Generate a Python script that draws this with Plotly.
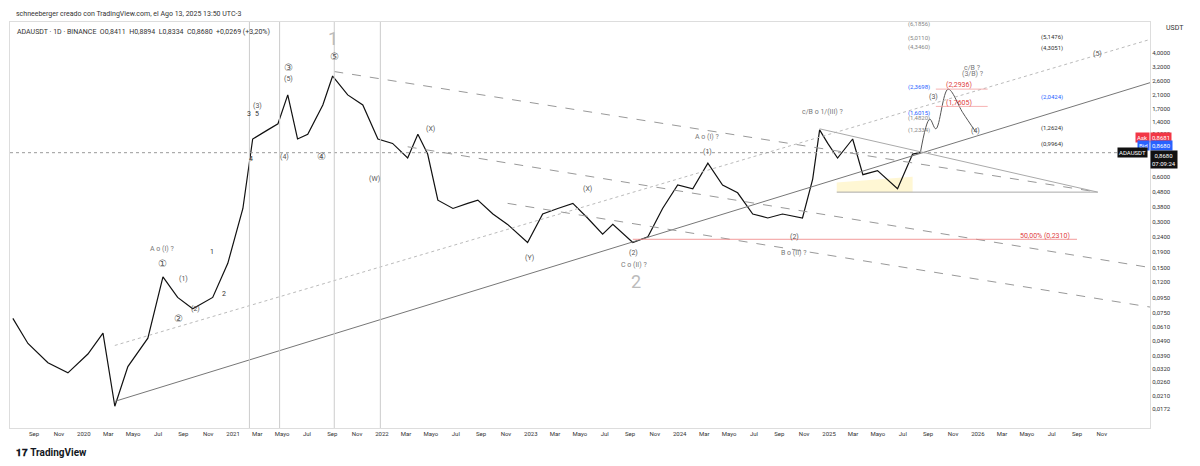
import math
import plotly.graph_objects as go

# ADAUSDT 1D, approximate closes
dates = ["2019-07-11", "2019-08-17", "2019-10-05", "2019-11-23", "2020-01-11", "2020-02-17",
         "2020-03-17", "2020-04-18", "2020-06-06", "2020-07-13", "2020-08-18", "2020-09-24",
         "2020-11-12", "2020-12-19", "2021-01-25", "2021-02-18", "2021-03-27", "2021-04-21",
         "2021-05-15", "2021-06-08", "2021-07-03", "2021-08-09", "2021-09-02", "2021-10-09",
         "2021-11-15", "2021-12-22", "2022-01-27", "2022-03-05", "2022-03-30", "2022-04-23",
         "2022-05-18", "2022-06-24", "2022-07-30", "2022-08-24", "2022-09-30", "2022-11-05",
         "2022-12-24", "2023-01-30", "2023-03-08", "2023-04-14", "2023-05-20", "2023-06-26",
         "2023-07-21", "2023-09-08", "2023-10-15", "2023-11-20", "2023-12-27", "2024-02-02",
         "2024-03-10", "2024-04-15", "2024-05-22", "2024-06-28", "2024-08-04", "2024-09-09",
         "2024-10-28", "2024-11-22", "2024-12-09", "2024-12-29", "2025-01-22", "2025-02-28",
         "2025-03-25", "2025-04-30", "2025-06-18", "2025-07-25", "2025-08-13"]
close = [0.069, 0.047, 0.035, 0.030, 0.040, 0.055,
         0.018, 0.033, 0.051, 0.13, 0.095, 0.08,
         0.095, 0.16, 0.37, 1.07, 1.23, 1.35,
         2.1, 1.07, 1.15, 1.8, 2.8, 2.1,
         1.8, 1.07, 1.0, 0.8, 1.15, 0.85,
         0.42, 0.37, 0.40, 0.42, 0.34, 0.29,
         0.22, 0.34, 0.37, 0.40, 0.32, 0.25,
         0.29, 0.22, 0.24, 0.37, 0.53, 0.50,
         0.74, 0.53, 0.47, 0.34, 0.32, 0.34,
         0.32, 0.58, 1.23, 1.0, 0.8, 1.07,
         0.62, 0.66, 0.50, 0.85, 0.868]

# projected path
proj_dates = ["2025-08-13", "2025-09-05", "2025-09-20", "2025-10-20", "2025-11-25", "2025-12-26"]
proj_vals = [0.868, 1.45, 1.25, 2.29, 1.6, 1.2]

# shaded triangle zone
zone_dates = ["2025-01-20", "2025-07-25", "2025-07-25", "2025-01-20"]
zone_vals = [0.475, 0.475, 0.60, 0.55]

tick_vals = [0.0172, 0.021, 0.026, 0.032, 0.039, 0.049, 0.061, 0.075, 0.095, 0.12, 0.15, 0.19,
             0.24, 0.30, 0.38, 0.48, 0.60, 1.15, 1.4, 1.7, 2.1, 2.6, 3.2, 4.0]
tick_text = [f"{v:.4f}".replace(".", ",") for v in tick_vals]

month_ticks = []
month_text = []
mnames = {3: "Mar", 5: "Mayo", 7: "Jul", 9: "Sep", 11: "Nov"}
for y in range(2019, 2027):
    for m in [1, 3, 5, 7, 9, 11]:
        if y == 2019 and m < 9:
            continue
        month_ticks.append(f"{y}-{m:02d}-01")
        month_text.append(str(y) if m == 1 else mnames[m])

x0, x1 = "2019-07-04", "2027-02-27"

fig = go.Figure()
fig.add_trace(go.Scatter(x=zone_dates, y=zone_vals, fill="toself", mode="lines", line=dict(width=0),
                         fillcolor="rgba(255,240,170,0.5)", showlegend=False, hoverinfo="skip"))
fig.add_trace(go.Scatter(x=dates, y=close, mode="lines", line=dict(color="#111", width=1.2),
                         showlegend=False, hoverinfo="skip"))
fig.add_trace(go.Scatter(x=proj_dates, y=proj_vals, mode="lines", line=dict(color="#555", width=1, shape="spline"),
                         showlegend=False, hoverinfo="skip"))

def seg(xa, ya, xb, yb, color="#888", dash="solid", width=1):
    fig.add_trace(go.Scatter(x=[xa, xb], y=[ya, yb], mode="lines", showlegend=False, hoverinfo="skip",
                             line=dict(color=color, dash=dash, width=width)))

seg("2020-03-17", 0.0194, x1, 2.53, "#777")
seg("2020-03-17", 0.0456, x1, 4.9, "#bbb", "dot")
seg("2021-09-06", 3.0, "2026-10-22", 0.475, "#999", "dash")
seg("2022-03-05", 0.95, x1, 0.15, "#999", "dash")
seg("2022-11-05", 0.40, x1, 0.082, "#999", "dash")
seg("2024-12-09", 1.25, "2026-10-22", 0.475, "#aaa")
seg("2025-01-20", 0.475, "2026-10-22", 0.475, "#aaa")
seg(x0, 0.868, x1, 0.868, "#999", "dot")
seg("2023-09-08", 0.231, "2026-09-01", 0.231, "#f08080", width=0.8)
seg("2025-09-20", 2.2936, "2026-01-25", 2.2936, "#f4a0a0", width=0.8)
seg("2025-09-20", 1.7605, "2026-01-25", 1.7605, "#f4a0a0", width=0.8)

shapes = []
for d in ["2021-02-10", "2021-04-25", "2021-09-06", "2021-12-28"]:
    shapes.append(dict(type="line", x0=d, x1=d, y0=0, y1=1, xref="x", yref="paper",
                       line=dict(color="#ccc", width=1)))

labels = [
    ("2021-09-02", 5.0, "1", "#bbb", 18), ("2023-09-17", 0.122, "2", "#bbb", 18),
    ("2021-09-06", 3.75, "⑤", "#555", 10), ("2021-05-18", 3.2, "③", "#555", 10),
    ("2021-05-18", 2.67, "(5)", "#555", 7), ("2021-03-01", 1.78, "(3)", "#555", 7),
    ("2021-02-08", 1.56, "3", "#333", 7), ("2021-03-01", 1.56, "5", "#333", 7),
    ("2021-05-08", 0.81, "(4)", "#555", 7), ("2021-08-05", 0.82, "④", "#555", 10),
    ("2021-02-15", 0.79, "4", "#333", 7), ("2021-12-14", 0.58, "(W)", "#555", 7),
    ("2022-04-30", 1.24, "(X)", "#555", 7), ("2022-12-28", 0.173, "(Y)", "#555", 7),
    ("2023-05-20", 0.50, "(X)", "#555", 7), ("2020-07-13", 0.20, "A o (I) ?", "#777", 7),
    ("2020-07-13", 0.16, "①", "#555", 10), ("2020-09-01", 0.125, "(1)", "#555", 7),
    ("2020-10-01", 0.08, "(2)", "#555", 7), ("2020-08-20", 0.069, "②", "#555", 10),
    ("2020-11-10", 0.19, "1", "#333", 7), ("2020-12-10", 0.10, "2", "#333", 7),
    ("2024-03-10", 0.88, "(1)", "#555", 7), ("2024-03-10", 1.10, "A o (I) ?", "#777", 7),
    ("2023-09-10", 0.186, "(2)", "#555", 7), ("2023-09-10", 0.157, "C o (II) ?", "#777", 7),
    ("2024-10-08", 0.239, "(2)", "#555", 7), ("2024-10-08", 0.186, "B o (II) ?", "#777", 7),
    ("2024-12-16", 1.62, "c/B o 1/(III) ?", "#777", 7), ("2025-09-13", 2.03, "(3)", "#555", 7),
    ("2025-12-20", 3.15, "c/B ?", "#777", 7), ("2025-12-20", 2.9, "(3/B) ?", "#777", 7),
    ("2025-12-26", 1.21, "(4)", "#555", 7), ("2026-10-22", 3.9, "(5)", "#555", 7),
    ("2026-06-15", 0.243, "50,00% (0,2310)", "#e04040", 7),
    ("2025-11-15", 2.45, "(2,2936)", "#e04040", 7), ("2025-11-15", 1.86, "(1,7605)", "#e04040", 7),
    ("2026-07-01", 5.1, "(5,1476)", "#333", 6), ("2026-07-01", 4.3, "(4,3051)", "#333", 6),
    ("2026-07-01", 2.04, "(2,0424)", "#2962ff", 6), ("2026-07-01", 1.26, "(1,2624)", "#333", 6),
    ("2026-07-01", 0.996, "(0,9964)", "#333", 6),
    ("2025-08-10", 6.2, "(6,1856)", "#888", 6), ("2025-08-10", 5.0, "(5,0110)", "#888", 6),
    ("2025-08-10", 4.35, "(4,3460)", "#888", 6), ("2025-08-10", 2.37, "(2,3698)", "#2962ff", 6),
    ("2025-08-10", 1.60, "(1,6015)", "#2962ff", 6), ("2025-08-10", 1.48, "(1,4820)", "#888", 6),
    ("2025-08-10", 1.23, "(1,2334)", "#888", 6),
]
ann = [dict(x=d, y=math.log10(p), text=t, showarrow=False, xref="x", yref="y",
            font=dict(color=c, size=s, family="Roboto")) for d, p, t, c, s in labels]

lp = math.log10(0.868)
ann += [
    dict(xref="paper", yref="y", x=1.0, y=lp + 0.1, text="0,8681", bgcolor="#f23645", font=dict(color="white", size=6),
         showarrow=False, xanchor="left", borderpad=1),
    dict(xref="paper", yref="y", x=1.0, y=lp + 0.1, text="Ask", bgcolor="#f23645", font=dict(color="white", size=6),
         showarrow=False, xanchor="right", borderpad=1),
    dict(xref="paper", yref="y", x=1.0, y=lp + 0.05, text="0,8680", bgcolor="#2962ff", font=dict(color="white", size=6),
         showarrow=False, xanchor="left", borderpad=1),
    dict(xref="paper", yref="y", x=1.0, y=lp + 0.05, text="Bid", bgcolor="#2962ff", font=dict(color="white", size=6),
         showarrow=False, xanchor="right", borderpad=1),
    dict(xref="paper", yref="y", x=1.0, y=lp + 0.018, text="0,8680<br>07:09:24", bgcolor="#111", font=dict(color="white", size=6),
         showarrow=False, xanchor="left", yanchor="top", borderpad=1),
    dict(xref="paper", yref="y", x=1.0, y=lp, text="ADAUSDT", bgcolor="#111", font=dict(color="white", size=6),
         showarrow=False, xanchor="right", xshift=-2, borderpad=1),
    dict(xref="paper", yref="paper", x=1.0, y=1.0, text="USDT", font=dict(color="#333", size=7),
         showarrow=False, xanchor="left", yanchor="top", xshift=14),
    dict(xref="paper", yref="paper", x=0.004, y=1.0, yshift=13, text="schneeberger creado con TradingView.com, el Ago 13, 2025 13:50 UTC-3",
         font=dict(color="#333", size=7), showarrow=False, xanchor="left", yanchor="top", borderpad=0),
    dict(xref="paper", yref="paper", x=0.004, y=0.99, text="ADAUSDT · 1D · BINANCE  O0,8411  H0,8894  L0,8334  C0,8680  +0,0269 (+3,20%)",
         font=dict(color="#333", size=7), showarrow=False, xanchor="left", yanchor="top"),
    dict(xref="paper", yref="paper", x=0.004, y=-0.045, text="<b>𝟏𝟕 TradingView</b>",
         font=dict(color="#131722", size=10), showarrow=False, xanchor="left", yanchor="top", borderpad=0),
]

fig.update_layout(
    width=1200, height=466, margin=dict(l=2, r=58, t=14, b=46),
    paper_bgcolor="white", plot_bgcolor="white", font=dict(family="Roboto", size=7, color="#333"),
    xaxis=dict(range=[x0, x1], tickvals=month_ticks, ticktext=month_text, showgrid=False,
               showline=True, linecolor="#ddd", mirror=True, ticks="", tickfont=dict(size=6)),
    yaxis=dict(type="log", range=[-1.889, 0.806], side="right", tickvals=tick_vals, ticktext=tick_text,
               showgrid=False, showline=True, linecolor="#ddd", mirror=True, ticks="", tickfont=dict(size=6)),
    shapes=shapes, annotations=ann,
)
fig.write_html("out.html")
